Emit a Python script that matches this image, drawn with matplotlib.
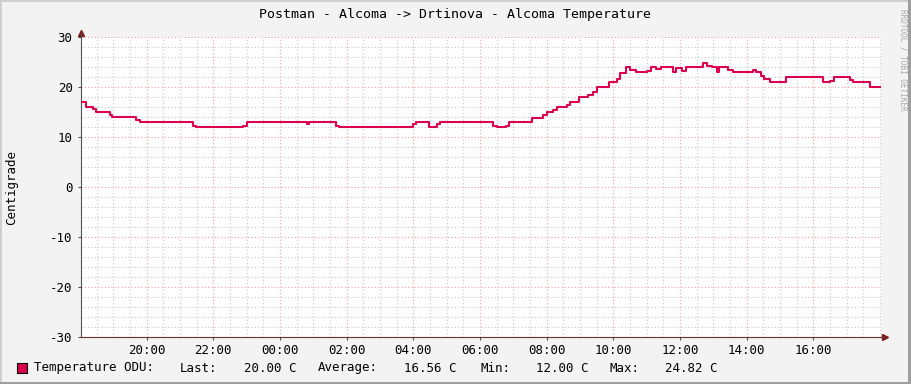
import numpy as np
import matplotlib
matplotlib.use("Agg")
import matplotlib.pyplot as plt
from matplotlib.patches import Rectangle

# step start times (hours since midnight of the first day) and temperature in C
step_hours = [18.03, 18.19, 18.39, 18.49, 18.89, 18.96, 19.68, 19.79, 21.39, 21.49,
              22.89, 23.01, 24.80, 24.88, 25.68, 25.78, 27.98, 28.08, 28.46, 28.70,
              28.80, 30.39, 30.50, 30.78, 30.88, 31.56, 31.90, 32.00, 32.20, 32.30,
              32.60, 32.70, 32.98, 33.24, 33.39, 33.52, 33.88, 34.12, 34.20, 34.38,
              34.50, 34.68, 35.00, 35.12, 35.28, 35.42, 35.80, 35.88, 36.05, 36.18,
              36.70, 36.80, 36.95, 37.10, 37.18, 37.45, 37.60, 38.20, 38.28, 38.42,
              38.53, 38.70, 39.18, 40.30, 40.50, 40.62, 41.10, 41.20, 41.70, 42.03]
temps = [17, 16, 15.6, 15, 14.4, 14, 13.5, 13, 12.3, 12,
         12.3, 13, 12.7, 13, 12.3, 12, 12.7, 13, 12, 12.7,
         13, 12.3, 12, 12.3, 13, 13.8, 14.5, 15, 15.5, 16,
         16.5, 17, 18, 18.4, 19, 20, 21, 21.7, 22.8, 24,
         23.5, 23, 23.3, 24, 23.7, 24, 23, 23.8, 23.3, 24,
         24.8, 24.3, 24, 23, 24, 23.5, 23, 23.5, 23, 22.2,
         21.7, 21, 22, 21, 21.3, 22, 21.5, 21, 20, 20]

x_start, x_end = 18.03, 42.03
tick_hours = [20, 22, 24, 26, 28, 30, 32, 34, 36, 38, 40]
tick_labels = ["20:00", "22:00", "00:00", "02:00", "04:00", "06:00",
               "08:00", "10:00", "12:00", "14:00", "16:00"]
y_ticks = [-30, -20, -10, 0, 10, 20, 30]

title = "Postman - Alcoma -> Drtinova - Alcoma Temperature"
series_name = "Temperature ODU:"
legend_names = ["Last:", "Average:", "Min:", "Max:"]
legend_values = ["20.00 C", "16.56 C", "12.00 C", "24.82 C"]

W, H = 911, 384
line_color = "#dc0050"
mono = "DejaVu Sans Mono"


def px(x, y):
    # pixel position (from top-left) to figure fraction
    return x / W, 1 - y / H


fig = plt.figure(figsize=(W / 100, H / 100), dpi=100, facecolor="#f3f3f3")
ax = fig.add_axes([81 / W, (H - 337.3) / H, 800 / W, 300 / H])
ax.set_facecolor("white")

ax.plot(step_hours, temps, drawstyle="steps-post", color=line_color, lw=1.5, zorder=3)

ax.set_xlim(x_start, x_end)
ax.set_ylim(-30, 30)
ax.set_xticks(tick_hours)
ax.set_xticklabels(tick_labels)
ax.set_xticks(np.arange(18.5, x_end, 0.5), minor=True)
ax.set_yticks(y_ticks)
ax.set_yticklabels([str(v) for v in y_ticks])
ax.set_yticks(np.arange(-30, 31, 2), minor=True)

ax.grid(which="minor", color="#c8c8c8", linestyle=(0, (1, 2)), lw=0.8)
ax.grid(which="major", color="#f0a0a0", linestyle=(0, (1, 2)), lw=0.8)
ax.set_axisbelow(True)

for s in ["top", "right"]:
    ax.spines[s].set_visible(False)
ax.spines["left"].set_color("#505050")
ax.spines["bottom"].set_color("#703030")

ax.tick_params(which="major", length=2, direction="out", colors="#505050",
               labelcolor="black", labelsize=9)
ax.tick_params(which="minor", length=0)
ax.tick_params(axis="y", pad=4)
ax.tick_params(axis="x", pad=2.5)
for lab in ax.get_xticklabels() + ax.get_yticklabels():
    lab.set_family(mono)

# arrows at the axis ends
ax.plot([1 + 4 / 800], [0], marker=">", ms=4, color="#801818",
        transform=ax.transAxes, clip_on=False)
ax.plot([0], [1 + 4 / 300], marker="^", ms=4, color="#801818",
        transform=ax.transAxes, clip_on=False)
ax.plot([1, 1 + 4 / 800], [0, 0], color="#703030", lw=0.8,
        transform=ax.transAxes, clip_on=False)
ax.plot([0, 0], [1, 1 + 4 / 300], color="#505050", lw=0.8,
        transform=ax.transAxes, clip_on=False)

fig.text(*px(455, 14.5), title, family=mono, fontsize=9.5, ha="center", va="center")
fig.text(*px(12, 187), "Centigrade", family=mono, fontsize=9, rotation=90,
         ha="center", va="center")
fig.text(*px(903, 60), "RRDTOOL / TOBI OETIKER", family=mono, fontsize=5.5,
         rotation=270, ha="center", va="center", color="#a8a8a8")

# legend line
fig.add_artist(Rectangle(px(17, 373), 10 / W, 10 / H, transform=fig.transFigure,
                         facecolor=line_color, edgecolor="black", lw=0.8))
fig.text(*px(34, 368), series_name, family=mono, fontsize=9, va="center")
name_x = [180, 318, 481, 610]
value_x = [244, 404, 536, 665]
for nx, name, vx, val in zip(name_x, legend_names, value_x, legend_values):
    fig.text(*px(nx, 368), name, family=mono, fontsize=9, va="center")
    fig.text(*px(vx, 368), val, family=mono, fontsize=9, va="center")

# shaded border of the canvas
fig.add_artist(Rectangle((0, 1 - 2 / H), 1, 2 / H, transform=fig.transFigure,
                         facecolor="#cfcfcf", lw=0))
fig.add_artist(Rectangle((0, 0), 2 / W, 1, transform=fig.transFigure,
                         facecolor="#cfcfcf", lw=0))
fig.add_artist(Rectangle((1 - 3 / W, 0), 3 / W, 1, transform=fig.transFigure,
                         facecolor="#9e9e9e", lw=0))
fig.add_artist(Rectangle((0, 0), 1, 2 / H, transform=fig.transFigure,
                         facecolor="#9e9e9e", lw=0))

fig.savefig("out.png", dpi=100, facecolor=fig.get_facecolor())
